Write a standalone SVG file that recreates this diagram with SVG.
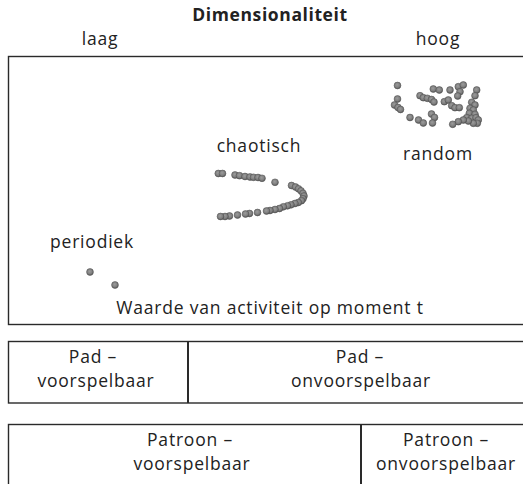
<svg xmlns="http://www.w3.org/2000/svg" width="523" height="484" viewBox="0 0 523 484">
<defs>
<radialGradient id="dotg" cx="0.45" cy="0.4" r="0.6">
<stop offset="0" stop-color="#9c9c9c"/>
<stop offset="0.65" stop-color="#7e7e7e"/>
<stop offset="1" stop-color="#555"/>
</radialGradient>
<style>
text{font-family:"Open Sans","Noto Sans","Liberation Sans",sans-serif;fill:#222;text-anchor:middle;font-size:17.5px;letter-spacing:0.8px}
.title{font-weight:bold;letter-spacing:0.6px}
.box{fill:none;stroke:#2a2a2a;stroke-width:1.4}
.div{stroke:#2a2a2a;stroke-width:2}
.d{fill:url(#dotg);stroke:#555;stroke-width:0.6}
</style>
</defs>
<rect width="523" height="484" fill="#fff"/>
<g id="header">
<text class="title" x="270" y="21">Dimensionaliteit</text>
<text x="100" y="45">laag</text>
<text x="438" y="45">hoog</text>
</g>
<g id="plot">
<rect class="box" x="8.5" y="56.5" width="530" height="268"/>
<text x="270" y="314">Waarde van activiteit op moment t</text>
</g>
<g id="periodiek">
<text x="92" y="248">periodiek</text>
<circle class="d" cx="90" cy="272" r="3.4"/>
<circle class="d" cx="115" cy="285" r="3.4"/>
</g>
<g id="chaotisch">
<text x="259" y="152">chaotisch</text>
<circle class="d" cx="218.3" cy="173.5" r="3.4"/>
<circle class="d" cx="222.5" cy="173.5" r="3.4"/>
<circle class="d" cx="235" cy="175" r="3.4"/>
<circle class="d" cx="239.5" cy="175.7" r="3.4"/>
<circle class="d" cx="245" cy="176.5" r="3.4"/>
<circle class="d" cx="250" cy="177" r="3.4"/>
<circle class="d" cx="253.5" cy="177.3" r="3.4"/>
<circle class="d" cx="258" cy="177.5" r="3.4"/>
<circle class="d" cx="262" cy="178.3" r="3.4"/>
<circle class="d" cx="275" cy="182.3" r="3.4"/>
<circle class="d" cx="291.5" cy="185.5" r="3.4"/>
<circle class="d" cx="295.5" cy="187" r="3.4"/>
<circle class="d" cx="298.5" cy="188.8" r="3.4"/>
<circle class="d" cx="301" cy="190.8" r="3.4"/>
<circle class="d" cx="303" cy="193.3" r="3.4"/>
<circle class="d" cx="304" cy="196" r="3.4"/>
<circle class="d" cx="303" cy="198.7" r="3.4"/>
<circle class="d" cx="301.5" cy="200.7" r="3.4"/>
<circle class="d" cx="298.3" cy="202.5" r="3.4"/>
<circle class="d" cx="295" cy="203.5" r="3.4"/>
<circle class="d" cx="291" cy="204.8" r="3.4"/>
<circle class="d" cx="287.5" cy="205.8" r="3.4"/>
<circle class="d" cx="283.3" cy="206.8" r="3.4"/>
<circle class="d" cx="279.5" cy="208.5" r="3.4"/>
<circle class="d" cx="275" cy="209.5" r="3.4"/>
<circle class="d" cx="270" cy="210.5" r="3.4"/>
<circle class="d" cx="266.5" cy="211" r="3.4"/>
<circle class="d" cx="257.5" cy="212.5" r="3.4"/>
<circle class="d" cx="249.5" cy="213.5" r="3.4"/>
<circle class="d" cx="245.5" cy="214" r="3.4"/>
<circle class="d" cx="237.5" cy="215" r="3.4"/>
<circle class="d" cx="229.5" cy="216" r="3.4"/>
<circle class="d" cx="225" cy="216.5" r="3.4"/>
<circle class="d" cx="220.5" cy="216.5" r="3.4"/>
</g>
<g id="random">
<text x="438" y="160">random</text>
<circle class="d" cx="397.5" cy="85.5" r="3.4"/>
<circle class="d" cx="397.5" cy="99" r="3.4"/>
<circle class="d" cx="394.5" cy="105" r="3.4"/>
<circle class="d" cx="398" cy="107.5" r="3.4"/>
<circle class="d" cx="400.5" cy="109.5" r="3.4"/>
<circle class="d" cx="410" cy="117.5" r="3.4"/>
<circle class="d" cx="418.5" cy="120" r="3.4"/>
<circle class="d" cx="423.3" cy="123" r="3.4"/>
<circle class="d" cx="431.5" cy="114" r="3.4"/>
<circle class="d" cx="434.5" cy="117.5" r="3.4"/>
<circle class="d" cx="432.5" cy="123" r="3.4"/>
<circle class="d" cx="420" cy="95.7" r="3.4"/>
<circle class="d" cx="423.3" cy="97.7" r="3.4"/>
<circle class="d" cx="427.3" cy="98.3" r="3.4"/>
<circle class="d" cx="431.5" cy="99.5" r="3.4"/>
<circle class="d" cx="434" cy="102" r="3.4"/>
<circle class="d" cx="433.3" cy="89" r="3.4"/>
<circle class="d" cx="439.3" cy="90" r="3.4"/>
<circle class="d" cx="450" cy="90" r="3.4"/>
<circle class="d" cx="458.3" cy="86.7" r="3.4"/>
<circle class="d" cx="463.3" cy="85" r="3.4"/>
<circle class="d" cx="460" cy="91.7" r="3.4"/>
<circle class="d" cx="457.7" cy="96" r="3.4"/>
<circle class="d" cx="476.7" cy="90" r="3.4"/>
<circle class="d" cx="475" cy="95.7" r="3.4"/>
<circle class="d" cx="444.3" cy="101.7" r="3.4"/>
<circle class="d" cx="448.3" cy="100" r="3.4"/>
<circle class="d" cx="451.7" cy="105.7" r="3.4"/>
<circle class="d" cx="455" cy="107.7" r="3.4"/>
<circle class="d" cx="459.3" cy="107.7" r="3.4"/>
<circle class="d" cx="471.7" cy="102.3" r="3.4"/>
<circle class="d" cx="475" cy="105" r="3.4"/>
<circle class="d" cx="470" cy="108.3" r="3.4"/>
<circle class="d" cx="473.3" cy="110" r="3.4"/>
<circle class="d" cx="469.3" cy="113.3" r="3.4"/>
<circle class="d" cx="475" cy="114.3" r="3.4"/>
<circle class="d" cx="466.7" cy="117.7" r="3.4"/>
<circle class="d" cx="471.7" cy="118.3" r="3.4"/>
<circle class="d" cx="476" cy="117.7" r="3.4"/>
<circle class="d" cx="478.3" cy="120" r="3.4"/>
<circle class="d" cx="477.3" cy="123.3" r="3.4"/>
<circle class="d" cx="473.3" cy="123.3" r="3.4"/>
<circle class="d" cx="468.3" cy="121" r="3.4"/>
<circle class="d" cx="463.3" cy="120" r="3.4"/>
<circle class="d" cx="458.3" cy="121.7" r="3.4"/>
<circle class="d" cx="452.7" cy="124.3" r="3.4"/>
</g>
<g id="pad">
<rect class="box" x="8.5" y="341.5" width="530" height="61.5"/>
<line class="div" x1="188" y1="341.5" x2="188" y2="403"/>
<text x="93" y="363">Pad –</text>
<text x="96" y="387">voorspelbaar</text>
<text x="360" y="363">Pad –</text>
<text x="361" y="387">onvoorspelbaar</text>
</g>
<g id="patroon">
<rect class="box" x="8.5" y="424.5" width="530" height="80"/>
<line class="div" x1="361" y1="424.5" x2="361" y2="484"/>
<text x="190" y="446">Patroon –</text>
<text x="192" y="470">voorspelbaar</text>
<text x="446" y="446">Patroon –</text>
<text x="446" y="470">onvoorspelbaar</text>
</g>
</svg>
